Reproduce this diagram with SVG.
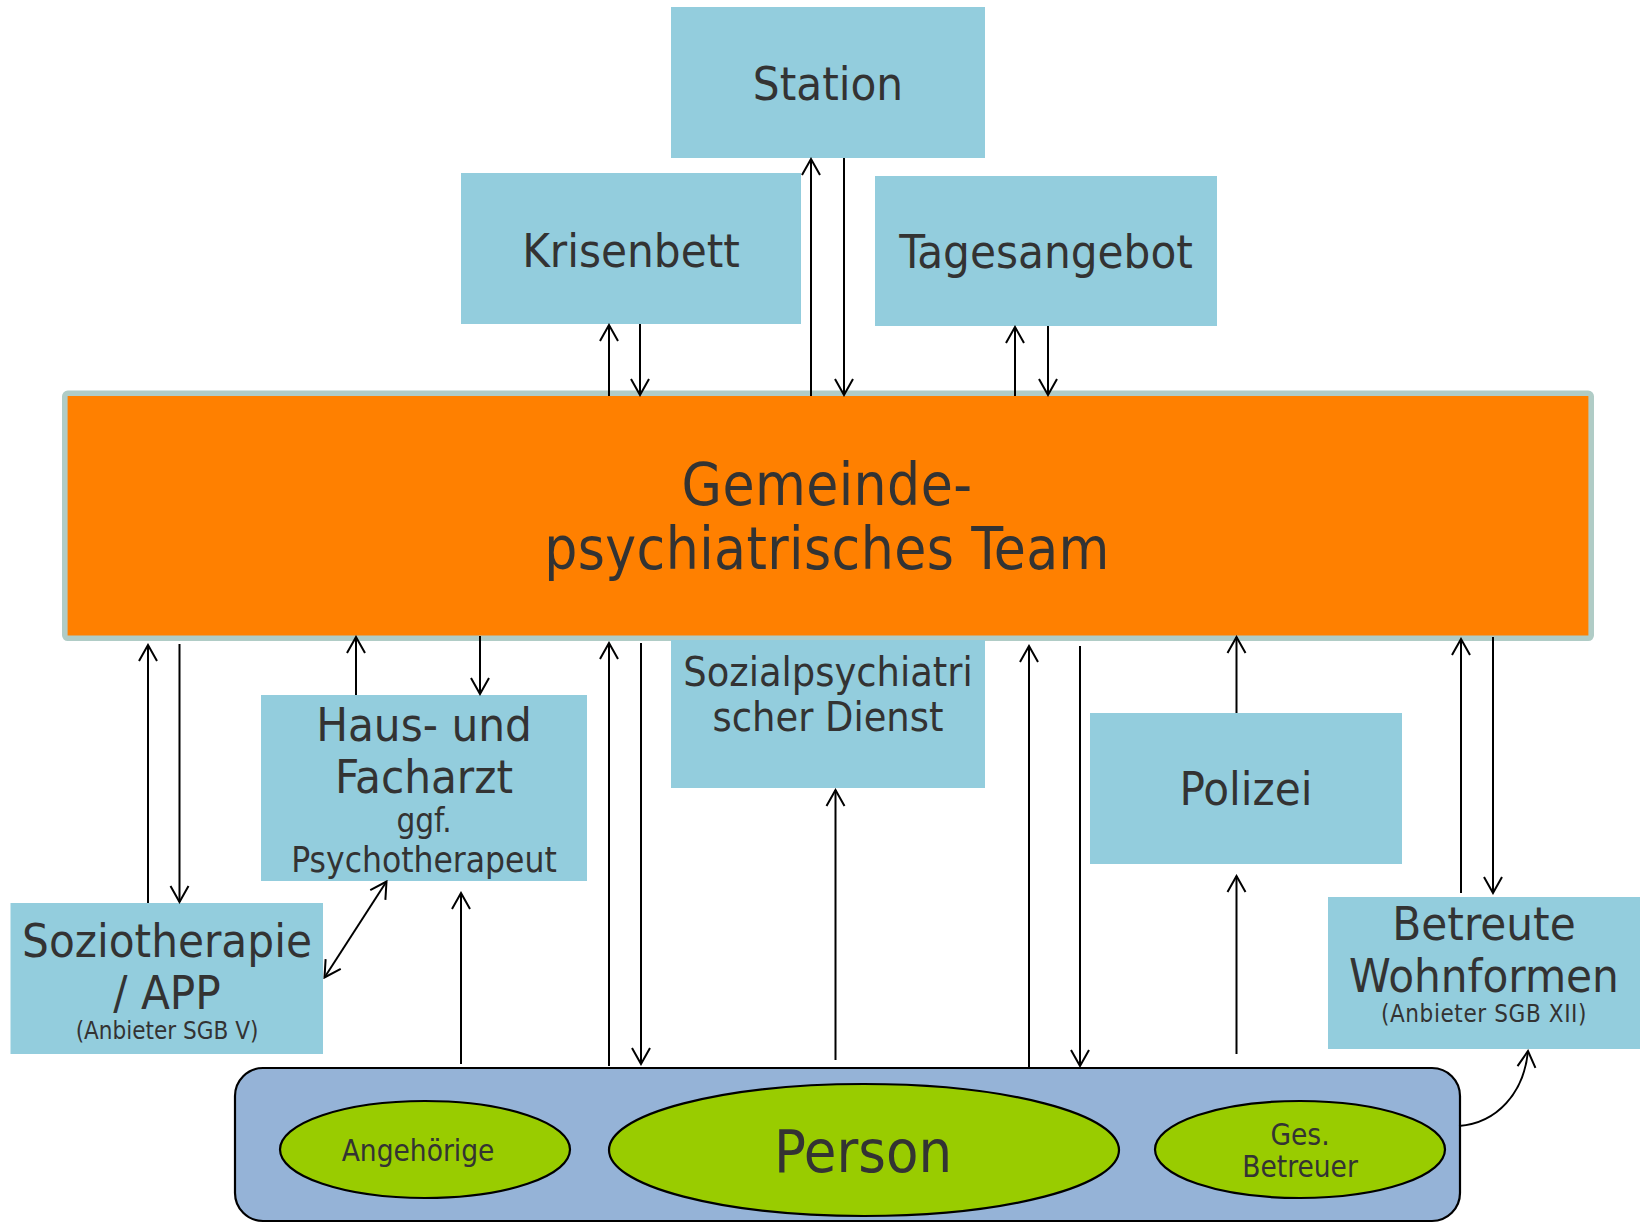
<svg xmlns="http://www.w3.org/2000/svg" width="1646" height="1223" viewBox="0 0 1646 1223">
  <defs>
    <style>
      .box { fill: #93CDDD; }
      .lbl { font-family: "DejaVu Sans Condensed", "DejaVu Sans", sans-serif; fill: #333333; text-anchor: middle; }
      .big { font-size: 47px; }
      .mid { font-size: 35px; }
      .sml { font-size: 24px; }
      .ell { fill: #99CC00; stroke: #000; stroke-width: 2.2; }
      .conn { fill: none; stroke: #000; stroke-width: 2; }
      .end { marker-end: url(#head); }
      .both { marker-start: url(#head); marker-end: url(#head); }
    </style>
    <marker id="head" markerUnits="userSpaceOnUse" viewBox="-18 -11 20 22" markerWidth="20" markerHeight="22" refX="0" refY="0" orient="auto-start-reverse">
      <path d="M-16,-9 L0,0 L-16,9" fill="none" stroke="#000" stroke-width="2"/>
    </marker>
  </defs>

  <!-- upper services -->
  <g id="station">
    <rect class="box" x="671" y="7" width="314" height="151"/>
    <text class="lbl big" x="828" y="100">Station</text>
  </g>
  <g id="krisenbett">
    <rect class="box" x="461" y="173" width="340" height="151"/>
    <text class="lbl big" x="631" y="267">Krisenbett</text>
  </g>
  <g id="tagesangebot">
    <rect class="box" x="875" y="176" width="342" height="150"/>
    <text class="lbl big" x="1046" y="268">Tagesangebot</text>
  </g>

  <!-- central team -->
  <g id="team">
    <rect x="64.8" y="393.3" width="1526.4" height="245" rx="3" fill="#FF8000" stroke="#B0CCC6" stroke-width="5.6"/>
    <text class="lbl" font-size="58" letter-spacing="0.4" x="827" y="505">Gemeinde-</text>
    <text class="lbl" font-size="58" letter-spacing="0.4" x="827" y="569">psychiatrisches Team</text>
  </g>

  <!-- lower services -->
  <g id="spd">
    <rect class="box" x="671" y="640" width="314" height="148"/>
    <text class="lbl" font-size="41" x="828" y="686">Sozialpsychiatri</text>
    <text class="lbl" font-size="41" x="828" y="731">scher Dienst</text>
  </g>
  <g id="arzt">
    <rect class="box" x="261" y="695" width="326" height="186"/>
    <text class="lbl big" x="424" y="741">Haus- und</text>
    <text class="lbl big" x="424" y="793">Facharzt</text>
    <text class="lbl" font-size="33" x="424" y="832">ggf.</text>
    <text class="lbl mid" x="424" y="872">Psychotherapeut</text>
  </g>
  <g id="polizei">
    <rect class="box" x="1090" y="713" width="312" height="151"/>
    <text class="lbl big" x="1246" y="805">Polizei</text>
  </g>
  <g id="soziotherapie">
    <rect class="box" x="10.5" y="903" width="312.5" height="151"/>
    <text class="lbl big" x="167" y="957">Soziotherapie</text>
    <text class="lbl big" x="167" y="1009">/ APP</text>
    <text class="lbl sml" x="167" y="1039">(Anbieter SGB V)</text>
  </g>
  <g id="wohnformen">
    <rect class="box" x="1328" y="897" width="312" height="152"/>
    <text class="lbl big" x="1484" y="940">Betreute</text>
    <text class="lbl big" x="1484" y="992">Wohnformen</text>
    <text class="lbl sml" x="1484" y="1022" letter-spacing="0.6">(Anbieter SGB XII)</text>
  </g>

  <!-- person and environment -->
  <g id="umfeld">
    <rect x="235" y="1068" width="1225" height="153" rx="28" fill="#95B3D7" stroke="#000" stroke-width="2.2"/>
  </g>
  <g id="angehoerige">
    <ellipse class="ell" cx="425" cy="1149.5" rx="145" ry="48.5"/>
    <text class="lbl" font-size="29.5" x="418" y="1161">Angehörige</text>
  </g>
  <g id="person">
    <ellipse class="ell" cx="864" cy="1150" rx="255" ry="66"/>
    <text class="lbl" font-size="59" x="863" y="1172">Person</text>
  </g>
  <g id="betreuer">
    <ellipse class="ell" cx="1300" cy="1149.5" rx="145" ry="48.5"/>
    <text class="lbl" font-size="29.5" x="1300" y="1145">Ges.</text>
    <text class="lbl" font-size="29.5" x="1300" y="1177">Betreuer</text>
  </g>

  <!-- connectors -->
  <g id="connectors">
    <!-- team <-> upper services -->
    <line class="conn end" x1="609" y1="396" x2="609" y2="325"/>
    <line class="conn end" x1="640" y1="324" x2="640" y2="395"/>
    <line class="conn end" x1="811" y1="396" x2="811" y2="159"/>
    <line class="conn end" x1="844" y1="158" x2="844" y2="395"/>
    <line class="conn end" x1="1015" y1="396" x2="1015" y2="327"/>
    <line class="conn end" x1="1048" y1="326" x2="1048" y2="395"/>

    <!-- team <-> Soziotherapie -->
    <line class="conn end" x1="148" y1="903" x2="148" y2="645"/>
    <line class="conn end" x1="179.5" y1="644" x2="179.5" y2="902"/>
    <!-- team <-> Arzt -->
    <line class="conn end" x1="356" y1="695" x2="356" y2="637"/>
    <line class="conn end" x1="480" y1="636" x2="480" y2="694"/>
    <!-- team <-> person -->
    <line class="conn end" x1="609" y1="1066" x2="609" y2="643"/>
    <line class="conn end" x1="641" y1="643" x2="641" y2="1064"/>
    <line class="conn end" x1="1029" y1="1068" x2="1029" y2="646"/>
    <line class="conn end" x1="1080" y1="646" x2="1080" y2="1066"/>
    <!-- person -> SpD -->
    <line class="conn end" x1="835.5" y1="1060" x2="835.5" y2="790"/>
    <!-- Polizei -> team, person -> Polizei -->
    <line class="conn end" x1="1236.5" y1="713" x2="1236.5" y2="637"/>
    <line class="conn end" x1="1236.5" y1="1054" x2="1236.5" y2="876"/>
    <!-- team <-> Wohnformen -->
    <line class="conn end" x1="1461" y1="893" x2="1461" y2="639"/>
    <line class="conn end" x1="1493" y1="637" x2="1493" y2="893"/>
    <!-- Arzt <-> Soziotherapie -->
    <line class="conn both" x1="324.5" y1="977.5" x2="386.5" y2="881.5"/>
    <!-- person -> Arzt -->
    <line class="conn end" x1="461" y1="1064" x2="461" y2="893"/>
    <!-- environment -> Wohnformen -->
    <path class="conn end" d="M1459,1126 C1497,1123 1524,1093 1528,1051"/>
  </g>
</svg>
